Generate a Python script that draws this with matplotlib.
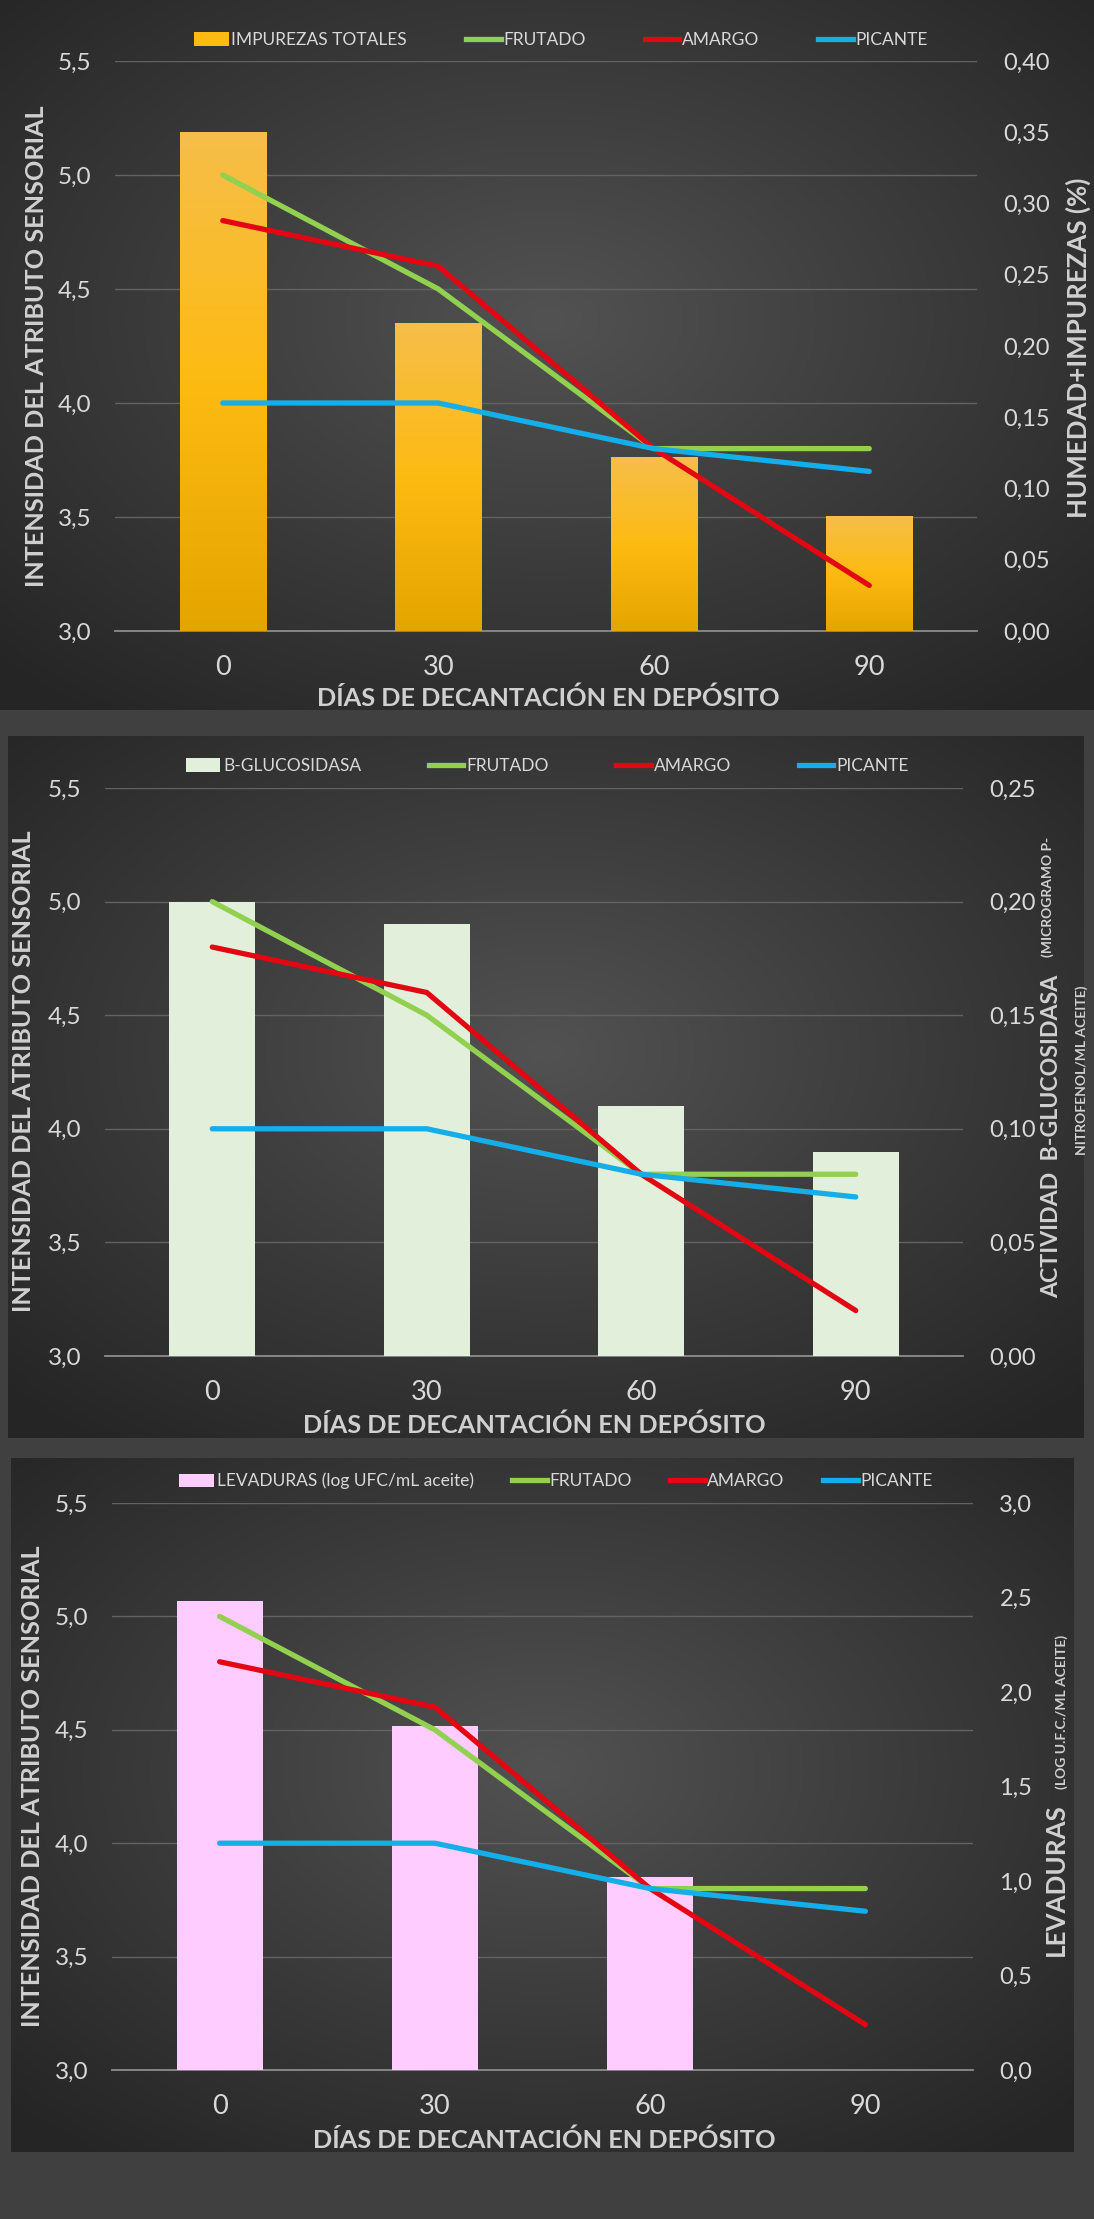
import numpy as np
import matplotlib
matplotlib.use('Agg')
import matplotlib.pyplot as plt
from matplotlib.patches import Patch
from matplotlib.lines import Line2D
from matplotlib.colors import LinearSegmentedColormap

# data
dias = ['0', '30', '60', '90']
frutado = [5.0, 4.5, 3.8, 3.8]
amargo = [4.8, 4.6, 3.8, 3.2]
picante = [4.0, 4.0, 3.8, 3.7]

impurezas = [0.35, 0.216, 0.122, 0.081]
glucosidasa = [0.20, 0.19, 0.11, 0.09]
levaduras = [2.48, 1.82, 1.02, 0.0]

left_ticks = [3.0, 3.5, 4.0, 4.5, 5.0, 5.5]

W, H = 1094, 2219
FONT = 'Lato'
TXT = '#d9d9d9'
LAB = '#d0d0d0'
C_FRUT, C_AMAR, C_PIC = '#92D050', '#E30613', '#14AEE8'

plt.rcParams['font.family'] = [FONT, 'DejaVu Sans']

fig = plt.figure(figsize=(W / 100, H / 100), dpi=100, facecolor='#404040')


def frac(x0, y0, x1, y1):
    return [x0 / W, 1 - y1 / H, (x1 - x0) / W, (y1 - y0) / H]


def comma(v, nd):
    return '{:.{}f}'.format(v, nd).replace('.', ',')


def background(box):
    bg = fig.add_axes(frac(*box), zorder=-5)
    yy, xx = np.mgrid[-1:1:300j, -1:1:300j]
    r = np.sqrt(xx ** 2 + (yy + 0.1) ** 2) / np.sqrt(2)
    cmap = LinearSegmentedColormap.from_list('bg', ['#525252', '#3b3b3b', '#252525'])
    bg.imshow(r, cmap=cmap, aspect='auto', vmin=0, vmax=1)
    bg.axis('off')


def panel(box, axbox, vals, bar_label, bar_color, rmax, rstep, rnd, leg_y, leg_x, colsp,
          left_lab, xlab, gradient=None):
    background(box)
    ax = fig.add_axes(frac(*axbox))
    ax.set_facecolor('none')
    ax2 = ax.twinx()
    x = np.arange(len(dias))

    # left axis: sensory scale with gridlines
    ax.set_ylim(3.0, 5.5)
    ax.set_yticks(left_ticks)
    ax.set_yticklabels([comma(v, 1) for v in left_ticks])
    ax.grid(axis='y', color='#626262', lw=1)
    ax.set_xlim(-0.5, len(dias) - 0.5)
    ax.set_xticks(x)
    ax.set_xticklabels(dias)
    for s in ['top', 'left', 'right']:
        ax.spines[s].set_visible(False)
        ax2.spines[s].set_visible(False)
    ax.spines['bottom'].set_color('#8c8c8c')
    ax.spines['bottom'].set_linewidth(1.3)
    ax2.spines['bottom'].set_visible(False)
    ax.tick_params(axis='y', length=0, pad=17, labelsize=17.5, labelcolor=TXT)
    ax.tick_params(axis='x', length=0, pad=17, labelsize=19.5, labelcolor=TXT)

    # right axis: bars
    bars = ax2.bar(x, vals, width=0.4, color=bar_color, zorder=2)
    if gradient is not None:
        cmap = LinearSegmentedColormap.from_list('bar', gradient)
        grad = np.linspace(0, 1, 256).reshape(-1, 1)
        for b in bars:
            b.set_facecolor('none')
            im = ax2.imshow(grad, extent=[b.get_x(), b.get_x() + b.get_width(), 0, b.get_height()],
                            origin='lower', cmap=cmap, aspect='auto', zorder=2)
            im.set_clip_path(b)
    # sensory lines drawn on top, in the left axis scale
    for vals_l, c in [(frutado, C_FRUT), (amargo, C_AMAR), (picante, C_PIC)]:
        ax2.plot(x, vals_l, color=c, lw=3.8, transform=ax.transData, zorder=3,
                 solid_capstyle='round')
    rticks = np.arange(0, rmax + rstep / 2, rstep)
    ax2.set_ylim(0, rmax)
    ax2.set_xlim(-0.5, len(dias) - 0.5)
    ax2.set_yticks(rticks)
    ax2.set_yticklabels([comma(v, rnd) for v in rticks])
    ax2.tick_params(axis='y', length=0, pad=19, labelsize=17, labelcolor=TXT)

    handles = [Patch(facecolor=bar_color if gradient is None else gradient[1], edgecolor='none'),
               Line2D([], [], color=C_FRUT, lw=3.8),
               Line2D([], [], color=C_AMAR, lw=3.8),
               Line2D([], [], color=C_PIC, lw=3.8)]
    labels = [bar_label, 'FRUTADO', 'AMARGO', 'PICANTE']
    ax2.legend(handles, labels, ncol=4, loc='center',
               bbox_to_anchor=(leg_x / W, 1 - leg_y / H), bbox_transform=fig.transFigure,
               frameon=False, fontsize=12.5, handlelength=2.0, handleheight=0.8,
               handletextpad=0.15, columnspacing=colsp, labelcolor=TXT)

    fig.text(left_lab[0] / W, 1 - left_lab[1] / H, 'INTENSIDAD DEL ATRIBUTO SENSORIAL',
             rotation=90, ha='center', va='center', fontsize=18.2, fontweight='bold', color=LAB)
    fig.text(xlab[0] / W, 1 - xlab[1] / H, 'DÍAS DE DECANTACIÓN EN DEPÓSITO',
             ha='center', va='center', fontsize=18.3, fontweight='bold', color=LAB)
    return ax, ax2


# panel 1: impurezas
panel((0, 0, 1094, 710), (115, 61, 977, 631), impurezas, 'IMPUREZAS TOTALES', '#FBBB1E',
      0.40, 0.05, 2, 40, 561, 3.4, (37, 346), (548, 698),
      gradient=['#E5A500', '#FDBB12', '#F6BE4A'])
fig.text(1078 / W, 1 - 348 / H, 'HUMEDAD+IMPUREZAS (%)', rotation=90, ha='center', va='center',
         fontsize=18.6, fontweight='bold', color=LAB)

# panel 2: b-glucosidasa
panel((8, 736, 1084, 1438), (105, 788, 963, 1356), glucosidasa, 'B-GLUCOSIDASA', '#E2EFDA',
      0.25, 0.05, 2, 766, 547, 3.9, (24, 1071), (534, 1425))
fig.text(1052 / W, 1 - 1136 / H, 'ACTIVIDAD  B-GLUCOSIDASA', rotation=90, ha='center', va='center',
         fontsize=16.7, fontweight='bold', color=LAB)
fig.text(1048 / W, 1 - 897 / H, '(MICROGRAMO P-', rotation=90, ha='center', va='center',
         fontsize=10, fontweight='bold', color=LAB)
fig.text(1082 / W, 1 - 1070 / H, 'NITROFENOL/ML ACEITE)', rotation=90, ha='center', va='center',
         fontsize=10, fontweight='bold', color=LAB)

# panel 3: levaduras
panel((11, 1458, 1074, 2152), (112, 1503, 973, 2070), levaduras, 'LEVADURAS (log UFC/mL aceite)',
      '#FFCCFF', 3.0, 0.5, 1, 1481, 556, 2.2, (33, 1786), (544, 2140))
fig.text(1068 / W, 1 - 1880 / H, 'LEVADURAS', rotation=90, ha='right', va='center',
         fontsize=18.7, fontweight='bold', color=LAB)
fig.text(1068 / W, 1 - 1712 / H, '(LOG U.F.C./ML ACEITE)', rotation=90, ha='right', va='center',
         fontsize=10, fontweight='bold', color=LAB)

plt.savefig('out.png', dpi=100, facecolor=fig.get_facecolor())
